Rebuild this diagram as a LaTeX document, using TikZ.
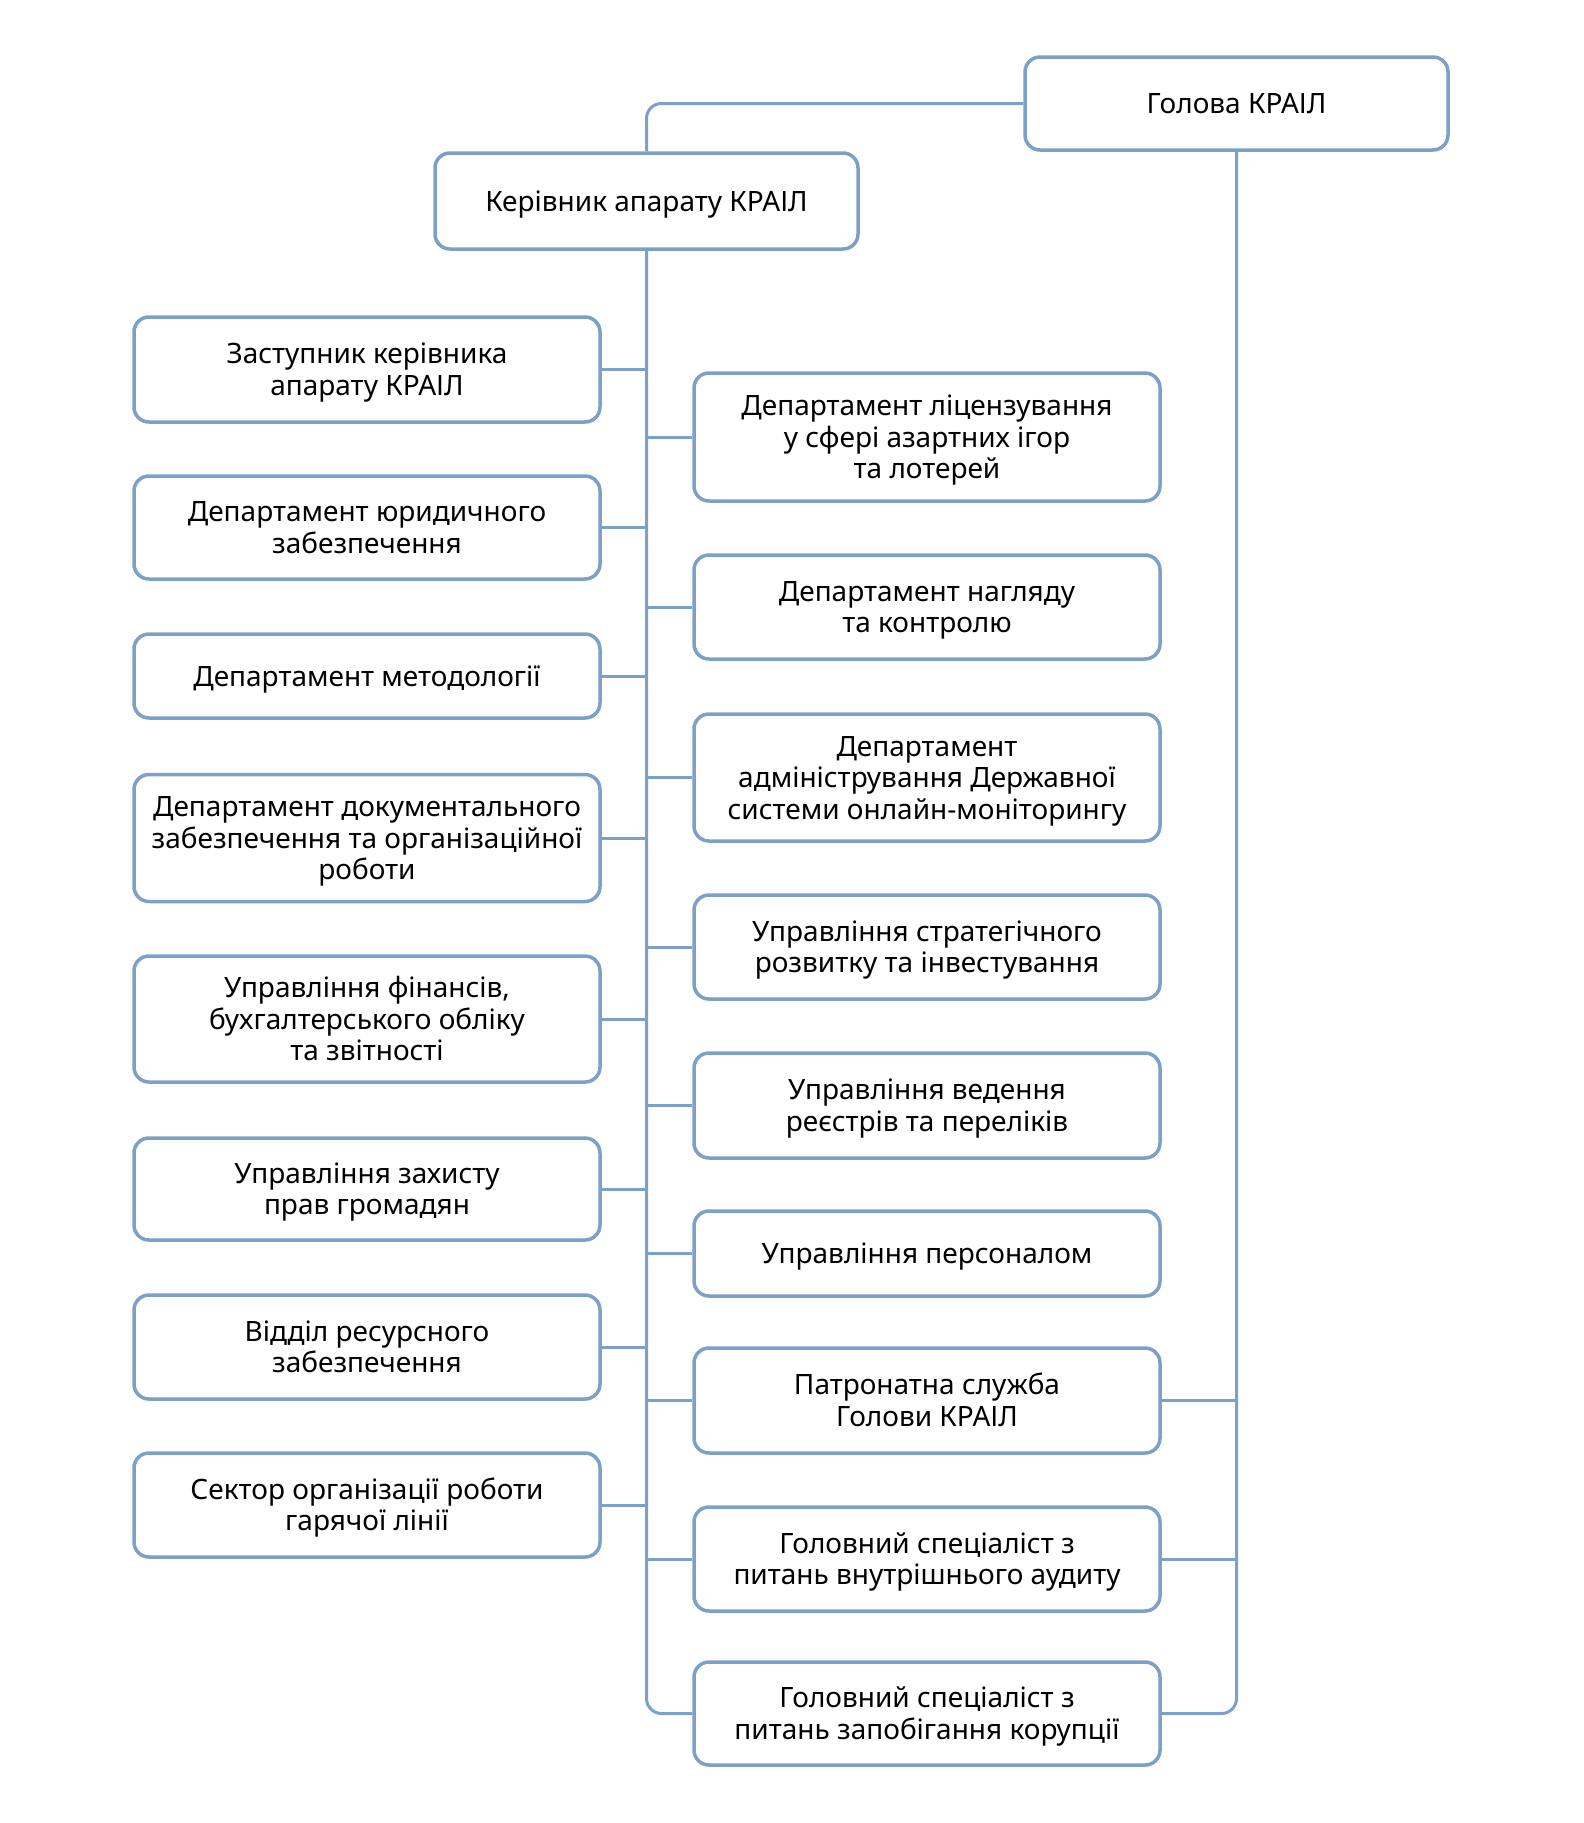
\documentclass[tikz,border=0pt]{standalone}
\usepackage{fontspec}
\setmainfont{Noto Sans}
\definecolor{bl}{HTML}{7BA1C8}
\newcommand{\mytop}{\rule{0pt}{30pt}}
\newcommand{\mybot}{\rule[-10pt]{0pt}{10pt}}
\tikzset{
  orgbox/.style={draw=bl, line width=3.5pt, rounded corners=15pt, fill=white,
    align=center, inner sep=0pt, minimum width=466pt,
    font=\fontsize{28}{31.5}\selectfont, text=black},
  conn/.style={draw=bl, line width=3pt},
}
\begin{document}
\begin{tikzpicture}[x=1pt,y=-1pt]
\useasboundingbox (0,0) rectangle (1584,1823);
\fill[white] (0,0) rectangle (1584,1823);
% top boxes
\node[orgbox, minimum width=423pt, minimum height=93pt] (golova) at (1236.5,103.5) {\mytop Голова КРАІЛ\mybot};
\node[orgbox, minimum width=423pt, minimum height=96pt] (kerivnyk) at (646.5,201) {\mytop Керівник апарату КРАІЛ\mybot};
% left column
\node[orgbox, minimum height=105pt] (L1) at (367,369.5) {\mytop Заступник керівника\\апарату КРАІЛ\mybot};
\node[orgbox, minimum height=103pt] (L2) at (367,527.5) {\mytop Департамент юридичного\\забезпечення\mybot};
\node[orgbox, minimum height=84pt] (L3) at (367,676) {\mytop Департамент методології\mybot};
\node[orgbox, minimum height=127pt] (L4) at (367,838) {\mytop Департамент документального\\забезпечення та організаційної\\роботи\mybot};
\node[orgbox, minimum height=126pt] (L5) at (367,1019) {\mytop Управління фінансів,\\бухгалтерського обліку\\та звітності\mybot};
\node[orgbox, minimum height=102pt] (L6) at (367,1189) {\mytop Управління захисту\\прав громадян\mybot};
\node[orgbox, minimum height=104pt] (L7) at (367,1347) {\mytop Відділ ресурсного\\забезпечення\mybot};
\node[orgbox, minimum height=104pt] (L8) at (367,1505) {\mytop Сектор організації роботи\\гарячої лінії\mybot};
% right column
\node[orgbox, minimum height=128pt] (R1) at (927,437) {\mytop Департамент ліцензування\\у сфері азартних ігор\\та лотерей\mybot};
\node[orgbox, minimum height=104pt] (R2) at (927,607) {\mytop Департамент нагляду\\та контролю\mybot};
\node[orgbox, minimum height=127pt] (R3) at (927,777.5) {\mytop Департамент\\адміністрування Державної\\системи онлайн-моніторингу\mybot};
\node[orgbox, minimum height=104pt] (R4) at (927,947) {\mytop Управління стратегічного\\розвитку та інвестування\mybot};
\node[orgbox, minimum height=105pt] (R5) at (927,1105.5) {\mytop Управління ведення\\реєстрів та переліків\mybot};
\node[orgbox, minimum height=85pt] (R6) at (927,1253.5) {\mytop Управління персоналом\mybot};
\node[orgbox, minimum height=105pt] (R7) at (927,1400.5) {\mytop Патронатна служба\\Голови КРАІЛ\mybot};
\node[orgbox, minimum height=104pt] (R8) at (927,1559) {\mytop Головний спеціаліст з\\питань внутрішнього аудиту\mybot};
\node[orgbox, minimum height=103pt] (R9) at (927,1713.5) {\mytop Головний спеціаліст з\\питань запобігання корупції\mybot};
% connectors
\draw[conn, rounded corners=15pt] (golova.west) -| (kerivnyk.north);
\draw[conn, rounded corners=15pt] (kerivnyk.south) |- (R9.west);
\draw[conn, rounded corners=15pt] (golova.south) |- (R9.east);
\foreach \n in {L1,L2,L3,L4,L5,L6,L7,L8}{
  \draw[conn] (\n.east) -- (\n.east -| kerivnyk.south);
}
\foreach \n in {R1,R2,R3,R4,R5,R6,R7,R8}{
  \draw[conn] (\n.west) -- (\n.west -| kerivnyk.south);
}
\foreach \n in {R7,R8}{
  \draw[conn] (\n.east) -- (\n.east -| golova.south);
}
\end{tikzpicture}
\end{document}
